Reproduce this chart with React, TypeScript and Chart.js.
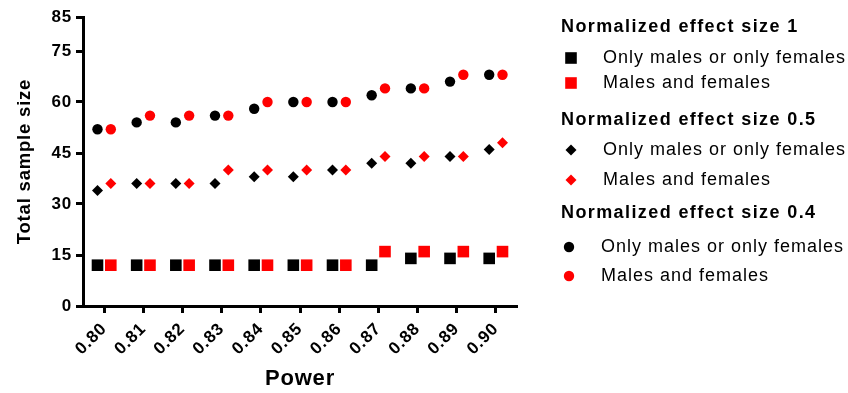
import React, { useEffect, useRef } from 'react';
import { Chart, registerables } from 'chart.js';

Chart.register(...registerables);

const powerLabels = ['0.80', '0.81', '0.82', '0.83', '0.84', '0.85', '0.86', '0.87', '0.88', '0.89', '0.90'];
const yTickValues = [0, 15, 30, 45, 60, 75, 85];
const groupTitles = ['Normalized effect size 1', 'Normalized effect size 0.5', 'Normalized effect size 0.4'];
const seriesNames = ['Only males or only females', 'Males and females'];

const es1Single = [12, 12, 12, 12, 12, 12, 12, 12, 14, 14, 14];
const es1Both = [12, 12, 12, 12, 12, 12, 12, 16, 16, 16, 16];
const es05Single = [34, 36, 36, 36, 38, 38, 40, 42, 42, 44, 46];
const es05Both = [36, 36, 36, 40, 40, 40, 40, 44, 44, 44, 48];
const es04Single = [52, 54, 54, 56, 58, 60, 60, 62, 64, 66, 68];
const es04Both = [52, 56, 56, 56, 60, 60, 60, 64, 64, 68, 68];

const FONT = 'Arial, "Liberation Sans", Helvetica, sans-serif';
const BLACK = '#000000';
const RED = '#ff0000';
const DODGE = 0.17;

const toPoints = (vals: number[], shift: number) => vals.map((v, i) => ({ x: i + shift, y: v }));

function drawMarker(ctx: CanvasRenderingContext2D, style: string, x: number, y: number, r: number, color: string) {
  ctx.fillStyle = color;
  ctx.beginPath();
  if (style === 'rect') {
    const s = Math.SQRT1_2 * r;
    ctx.rect(x - s, y - s, 2 * s, 2 * s);
  } else if (style === 'rectRot') {
    ctx.moveTo(x - r, y);
    ctx.lineTo(x, y - r);
    ctx.lineTo(x + r, y);
    ctx.lineTo(x, y + r);
    ctx.closePath();
  } else {
    ctx.arc(x, y, r, 0, Math.PI * 2);
  }
  ctx.fill();
}

const letterSpacingPlugin = {
  id: 'letterSpacing',
  beforeDraw(chart: any) {
    (chart.ctx as any).letterSpacing = '0.8px';
  },
};

const groupLegend = {
  id: 'groupLegend',
  afterDraw(chart: any) {
    const ctx: any = chart.ctx;
    const titleYs = [27, 120, 213];
    const rowYs = [[58, 83], [150, 180], [247, 276]];
    const textXs = [603, 603, 601];
    const markerXs = [571, 571, 569];
    ctx.save();
    ctx.textBaseline = 'middle';
    ctx.textAlign = 'left';
    groupTitles.forEach((title, gi) => {
      ctx.fillStyle = BLACK;
      ctx.font = `bold 18px ${FONT}`;
      ctx.letterSpacing = '1.4px';
      ctx.fillText(title, 561, titleYs[gi]);
      const dsets = chart.data.datasets.filter((d: any) => d.group === gi);
      dsets.forEach((d: any, k: number) => {
        const y = rowYs[gi][k];
        drawMarker(ctx, d.pointStyle, markerXs[gi], y, d.pointRadius, d.backgroundColor);
        ctx.fillStyle = BLACK;
        ctx.font = `18px ${FONT}`;
        ctx.letterSpacing = '1px';
        ctx.fillText(d.label, textXs[gi], y);
      });
    });
    ctx.restore();
  },
};

export default function App() {
  const canvasRef = useRef<HTMLCanvasElement | null>(null);

  useEffect(() => {
    if (!canvasRef.current) return;
    const mk = (label: string, vals: number[], shift: number, color: string, style: string, r: number, group: number) => ({
      label,
      data: toPoints(vals, shift),
      backgroundColor: color,
      borderColor: color,
      pointStyle: style,
      pointRadius: r,
      pointBorderWidth: 0,
      showLine: false,
      group,
    });
    const chart = new Chart(canvasRef.current, {
      type: 'scatter',
      data: {
        datasets: [
          mk(seriesNames[0], es1Single, -DODGE, BLACK, 'rect', 8.2, 0),
          mk(seriesNames[1], es1Both, DODGE, RED, 'rect', 8.2, 0),
          mk(seriesNames[0], es05Single, -DODGE, BLACK, 'rectRot', 5.5, 1),
          mk(seriesNames[1], es05Both, DODGE, RED, 'rectRot', 5.5, 1),
          mk(seriesNames[0], es04Single, -DODGE, BLACK, 'circle', 5.2, 2),
          mk(seriesNames[1], es04Both, DODGE, RED, 'circle', 5.2, 2),
        ] as any,
      },
      options: {
        animation: false,
        responsive: true,
        maintainAspectRatio: false,
        layout: { padding: { top: 17, right: 331, bottom: 0, left: 0 } },
        plugins: { legend: { display: false }, tooltip: { enabled: false } },
        scales: {
          x: {
            type: 'linear',
            min: -0.54,
            max: 10.54,
            afterBuildTicks: (s: any) => {
              s.ticks = powerLabels.map((_, i) => ({ value: i }));
            },
            afterFit: (s: any) => {
              s.height = 87;
            },
            ticks: {
              autoSkip: false,
              minRotation: 45,
              maxRotation: 45,
              padding: 6,
              color: BLACK,
              font: { family: FONT, size: 17, weight: 'bold' },
              callback: (_v: any, i: number) => powerLabels[i],
            },
            grid: { drawOnChartArea: false, drawTicks: true, tickLength: 7, tickWidth: 3, tickColor: BLACK },
            border: { display: true, color: BLACK, width: 3 },
            title: {
              display: true,
              text: 'Power',
              color: BLACK,
              font: { family: FONT, size: 22, weight: 'bold' },
              padding: { top: 0, bottom: 1 },
            },
          },
          y: {
            type: 'linear',
            min: 0,
            max: 85,
            afterBuildTicks: (s: any) => {
              s.ticks = yTickValues.map((v) => ({ value: v }));
            },
            afterFit: (s: any) => {
              s.width = 83;
            },
            ticks: {
              padding: 4,
              color: BLACK,
              font: { family: FONT, size: 17, weight: 'bold' },
            },
            grid: { drawOnChartArea: false, drawTicks: true, tickLength: 7, tickWidth: 3, tickColor: BLACK },
            border: { display: true, color: BLACK, width: 3 },
            title: {
              display: true,
              text: 'Total sample size',
              color: BLACK,
              font: { family: FONT, size: 18.5, weight: 'bold' },
              padding: { top: 14, bottom: 0 },
            },
          },
        },
      } as any,
      plugins: [letterSpacingPlugin, groupLegend],
    });
    return () => chart.destroy();
  }, []);

  return (
    <div style={{ position: 'fixed', left: 0, top: 0, width: 848, height: 393, background: '#fff' }}>
      <canvas ref={canvasRef} />
    </div>
  );
}
